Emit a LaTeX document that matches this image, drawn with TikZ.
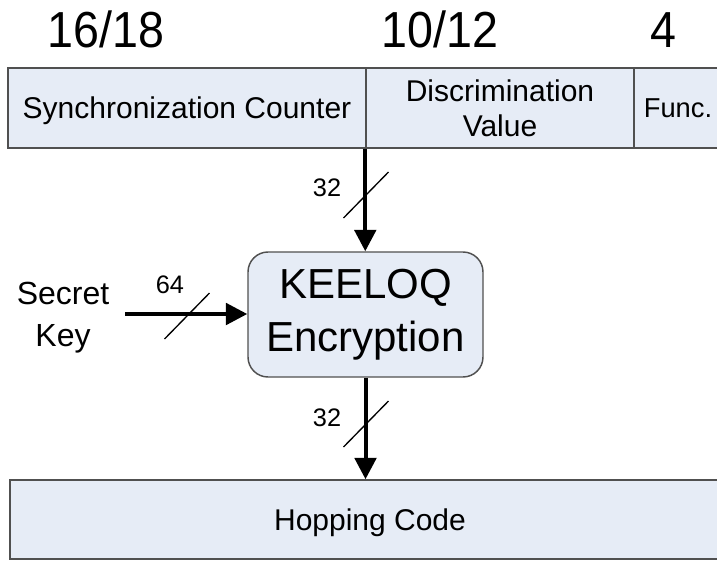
\documentclass[tikz,border=0pt]{standalone}
\usepackage{fontspec}
\setmainfont{Liberation Sans}
\newfontfamily\narrowfont[FakeStretch=0.92]{Liberation Sans}
\usetikzlibrary{arrows.meta}
\definecolor{cellfill}{HTML}{E6ECF6}
\definecolor{celldraw}{HTML}{505050}
\begin{document}
\begin{tikzpicture}[x=0.75pt,y=-0.75pt,
   cell/.style={rectangle,draw=celldraw,fill=cellfill,line width=1.1pt,
    minimum height=60pt,inner sep=0pt,align=center,
    font=\fontsize{22.5}{26.25}\selectfont},
   field/.style={cell,text depth=0pt},
   bits/.style={font=\narrowfont\fontsize{38}{42}\selectfont,anchor=base},
   num/.style={font=\fontsize{19}{22}\selectfont,inner sep=0pt},
   bus/.style={line width=3pt,-{Triangle[length=16pt,width=16pt]}},
   slash/.style={line width=1pt}
    ]
  \useasboundingbox (0,0) rectangle (717,561);
  \clip (0,0) rectangle (717,561);

  % -- field widths
  \node[bits] at (106,47) (lsync) {16/18};
  \node[bits] at (440,47) (ldisc) {10/12};
  \node[bits] at (663,47) (lfunc) {4};

  % -- top row
  \node[field,minimum width=268.5pt] at (187,108) (sync) {Synchronization Counter};
  \node[field,minimum width=201pt] at (500,108) (disc) {Discrimination\\Value};
  \node[field,minimum width=66pt,font=\fontsize{20.5}{24}\selectfont] at (678,108) (func) {Func.};

  % -- cipher
  \node[cell,minimum width=176.25pt,minimum height=93.75pt,rounded corners=15pt,
    font=\fontsize{31.5}{39.75}\selectfont] at (365.5,314.5) (enc) {KEELOQ\\Encryption};
  \node[align=center,inner sep=0pt,font=\fontsize{24}{31.5}\selectfont] at (63,318) (key) {Secret\\Key};
  \coordinate (keyin) at (125,314);

  % -- bottom row
  \node[field,minimum width=540pt,minimum height=59.25pt] at (370,519.5) (hop) {Hopping Code};

  % -- arrows
  \draw[bus] (disc.south west) -- (disc.south west |- enc.north);
  \draw[bus] (keyin) -- (keyin -| enc.west);
  \draw[bus] (enc.south) -- (enc.south |- hop.north);

  % -- bus widths
  \draw[slash] (366,195) +(-22.5,23) -- +(22.5,-23);
  \draw[slash] (187,316) +(-22.5,23) -- +(22.5,-23);
  \draw[slash] (366,424) +(-22.5,23) -- +(22.5,-23);
  \node[num] at (327,188) (win) {32};
  \node[num] at (170,285) (wkey) {64};
  \node[num] at (327,418) (wout) {32};

\end{tikzpicture}
\end{document}
